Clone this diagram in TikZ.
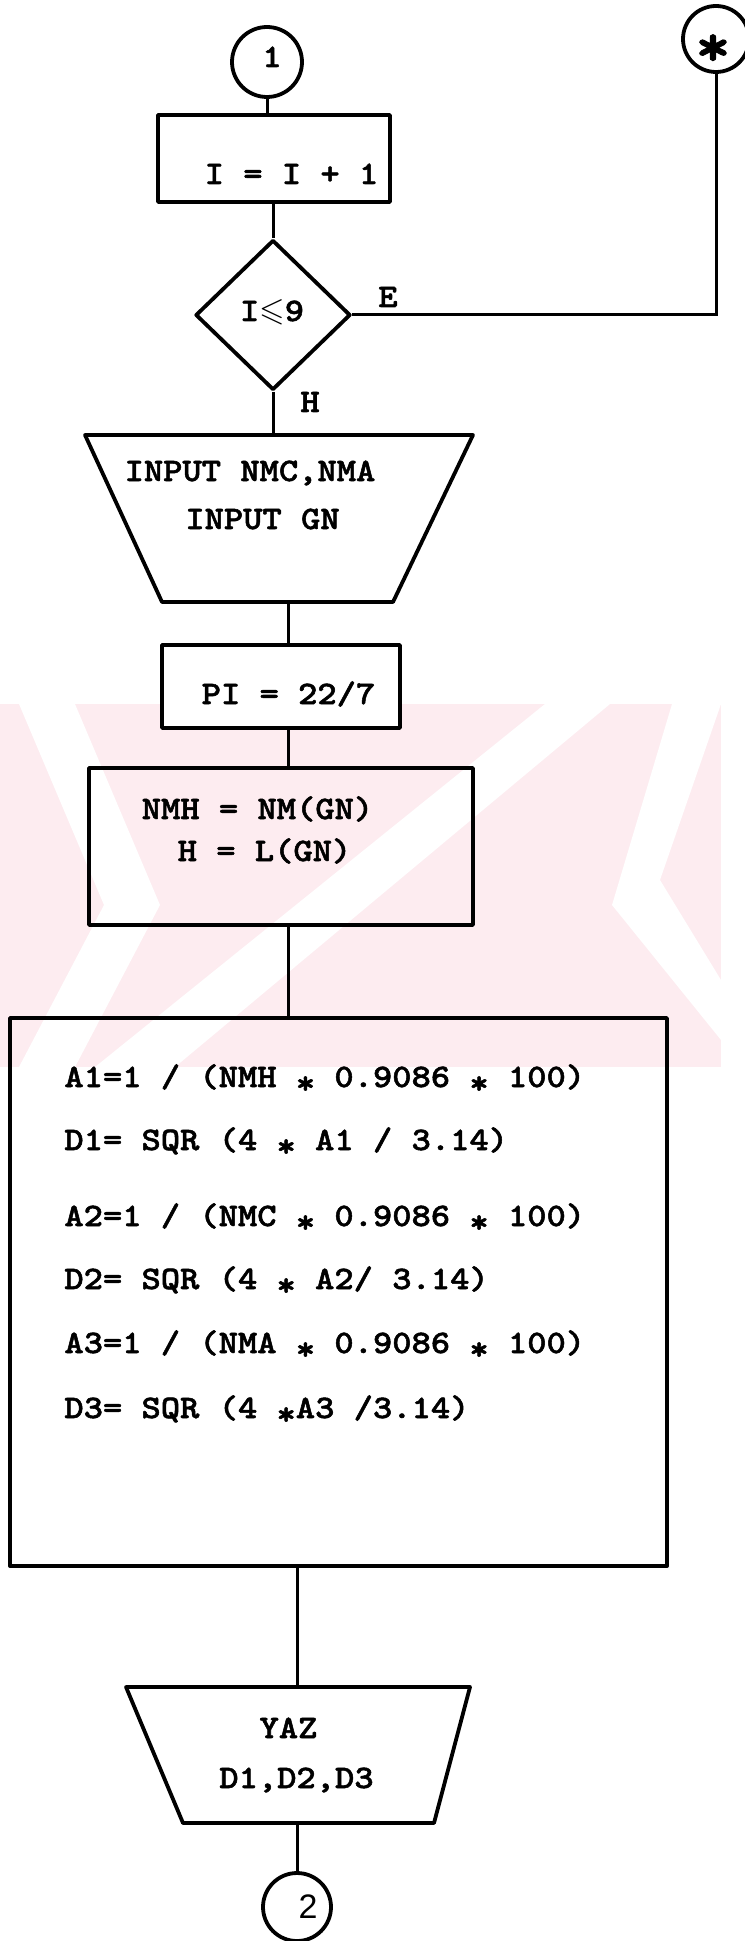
\documentclass[tikz,border=0pt]{standalone}
\usepackage{amssymb}
\usepackage{fontspec}
\newfontfamily\tw{lmmonolt10-bold.otf}[FakeStretch=1.12, FakeBold=1.6]
\newfontfamily\tsans{Liberation Sans}
\usetikzlibrary{shapes.geometric}
\newcommand\lowstar{\raisebox{-0.2em}{*}}
\definecolor{wmpink}{RGB}{253,236,240}
\begin{document}
\begin{tikzpicture}[x=0.5pt,y=-0.5pt,
  shapeline/.style={draw, line width=1.9pt, inner sep=0pt, line join=round},
  conn/.style={line width=1.5pt},
  tt/.style={font=\tw\fontsize{16.4}{18}\selectfont, inner sep=0pt},
  ttl/.style={tt, anchor=base west},
  connector/.style={shapeline, circle, minimum size=#1}
]
\useasboundingbox (0,0) rectangle (744,1941);

% faint background stamp with white diagonal bands
\begin{scope}
  \clip (0,704) rectangle (721,1067);
  \fill[wmpink] (0,704) rectangle (721,1067);
  \fill[white] (19,704) -- (75,704) -- (160,905) -- (75,1067) -- (19,1067) -- (104,905) -- cycle;
  \fill[white] (545,704) -- (610,704) -- (175,1067) -- (95,1067) -- cycle;
  \fill[white] (672,704) -- (721,704) -- (660,880) -- (721,980) -- (721,1040) -- (612,905) -- cycle;
\end{scope}

% columns used by the vertical connectors
\coordinate (colB) at (288,0);

% ---- shapes ----
\node[connector=35pt] (c1) at (267,62) {};
\node[connector=33pt] (star) at (716,39) {};
\node[shapeline, rectangle, minimum width=116pt, minimum height=43.5pt] (inc) at (274,158.5) {};
\node[shapeline, diamond, minimum width=77.5pt, minimum height=75pt] (test) at (273,315) {};

% input block (wide side up)
\draw[shapeline] (85,435) coordinate (in1nw) -- (473,435) coordinate (in1ne)
  -- (393,602) coordinate (in1se) -- (162,602) coordinate (in1sw) -- cycle;
\coordinate (in1n) at (279,435);
\coordinate (in1s) at (278,602);

\node[shapeline, rectangle, fill=white, minimum width=119pt, minimum height=41.5pt] (pi) at (281,686.5) {};
\node[shapeline, rectangle, minimum width=192pt, minimum height=78.5pt] (nmh) at (281,846.5) {};
\node[shapeline, rectangle, minimum width=328.5pt, minimum height=274pt] (calc) at (338.5,1292) {};

% output block (wide side up)
\draw[shapeline] (126,1687) coordinate (outnw) -- (470,1687) coordinate (outne)
  -- (434,1823) coordinate (outse) -- (183,1823) coordinate (outsw) -- cycle;
\coordinate (outn) at (298,1687);
\coordinate (outs) at (298,1823);

\node[connector=34pt] (c2) at (297,1907) {};

% ---- texts ----
\node[tt, anchor=base] (t1) at (272,67) {1};
\node[font=\tw\fontsize{30}{30}\selectfont, inner sep=0pt, anchor=base] (tstar) at (713,66) {*};
\node[tt, anchor=base] (tE) at (388,307) {E};
\node[tt, anchor=base] (ttest) at (272,321) {I{\boldmath$\leqslant$}9};
\node[tt, anchor=base] (tH) at (310,412) {H};
\node[tt, anchor=base] (tinc) at (291.5,184) {I = I + 1};
\node[tt, anchor=base] (tin1) at (250,481) {INPUT NMC,NMA};
\node[tt, anchor=base] (tin2) at (262.5,529) {INPUT GN};
\node[tt, anchor=base] (tpi) at (288.5,704) {PI = 22/7};
\node[tt, anchor=base] (tnmh) at (257.5,819) {NMH = NM(GN)};
\node[tt, anchor=base] (th) at (264.5,861) {H = L(GN)};
\node[ttl] (a1) at (64,1087) {A1=1 / (NMH \lowstar{} 0.9086 \lowstar{} 100)};
\node[ttl] (d1) at (64,1150) {D1= SQR (4 \lowstar{} A1 / 3.14)};
\node[ttl] (a2) at (64,1226) {A2=1 / (NMC \lowstar{} 0.9086 \lowstar{} 100)};
\node[ttl] (d2) at (64,1289) {D2= SQR (4 \lowstar{} A2/ 3.14)};
\node[ttl] (a3) at (64,1353) {A3=1 / (NMA \lowstar{} 0.9086 \lowstar{} 100)};
\node[ttl] (d3) at (64,1418) {D3= SQR (4 \lowstar{}A3 /3.14)};
\node[tt, anchor=base] (tyaz) at (288.5,1738) {YAZ};
\node[tt, anchor=base] (tdd) at (296.5,1788) {D1,D2,D3};
\node[font=\tsans\fontsize{17}{18}\selectfont, inner sep=0pt, anchor=base] (t2) at (308,1918) {2};

% ---- connectors ----
\draw[conn] (c1.south) -- (c1.south |- inc.north);
\draw[conn] (test.north |- inc.south) -- (test.north);
\draw[conn] (test.south) -- (test.south |- in1n);
\draw[conn] (test.east) -| (star.south);
\draw[conn] (in1s -| colB) -- (pi.north -| colB);
\draw[conn] (pi.south -| colB) -- (nmh.north -| colB);
\draw[conn] (nmh.south -| colB) -- (calc.north -| colB);
\draw[conn] (calc.south -| c2.north) -- (outn -| c2.north);
\draw[conn] (outs -| c2.north) -- (c2.north);
\end{tikzpicture}
\end{document}
